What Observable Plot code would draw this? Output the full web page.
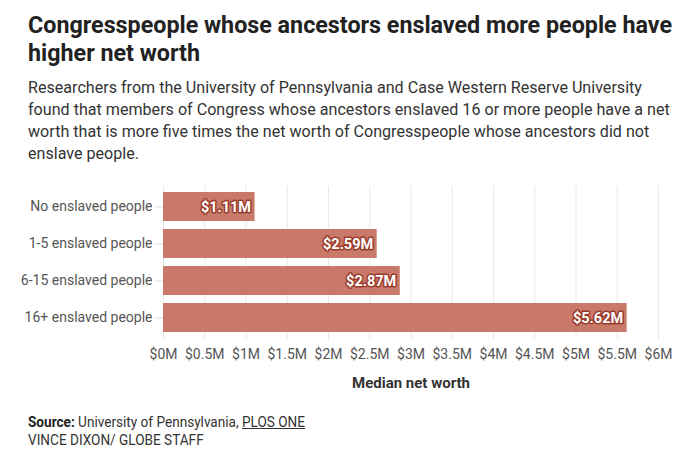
<!DOCTYPE html>
<html>
<head>
<meta charset="utf-8">
<script src="https://cdn.jsdelivr.net/npm/d3@7"></script>
<script src="https://cdn.jsdelivr.net/npm/@observablehq/plot@0.6"></script>
<style>
  html, body { margin: 0; padding: 0; background: #fff; }
  body { width: 700px; height: 461px; overflow: hidden; font-family: Roboto, "Liberation Sans", sans-serif; }
  .blk { position: absolute; left: 28px; margin: 0; }
  .blk span { display: block; white-space: nowrap; transform-origin: 0 50%; width: max-content; }
  h1.blk { top: 11px; font-size: 24px; line-height: 28px; font-weight: bold; color: #222; }
  .sub { top: 77px; font-size: 16.5px; line-height: 22px; color: #333; }
  #chart { position: absolute; left: 0; top: 180px; }
  .foot { top: 413px; font-size: 14px; line-height: 18px; color: #333; }
  .foot b { color: #222; }
  #chart svg [aria-label="x-axis label"] { font-weight: bold; fill: #333; }
</style>
</head>
<body>
  <h1 class="blk" id="title" data-w="644"><span>Congresspeople whose ancestors enslaved more people have</span><span>higher net worth</span></h1>
  <p class="blk sub" id="sub" data-w="614"><span>Researchers from the University of Pennsylvania and Case Western Reserve University</span><span>found that members of Congress whose ancestors enslaved 16 or more people have a net</span><span>worth that is more five times the net worth of Congresspeople whose ancestors did not</span><span>enslave people.</span></p>
  <div id="chart"></div>
  <div class="blk foot" id="foot" data-w="277"><span><b>Source:</b> University of Pennsylvania, <u>PLOS ONE</u></span><span>VINCE DIXON/ GLOBE STAFF</span></div>
<script>
const categories = ["No enslaved people", "1-5 enslaved people", "6-15 enslaved people", "16+ enslaved people"];
const netWorth = [1.11, 2.59, 2.87, 5.62];
const valueLabels = ["$1.11M", "$2.59M", "$2.87M", "$5.62M"];
const xTicks = [0, 0.5, 1, 1.5, 2, 2.5, 3, 3.5, 4, 4.5, 5, 5.5, 6];

const data = categories.map((c, i) => ({category: c, value: netWorth[i], label: valueLabels[i]}));
const font = 'Roboto, "Liberation Sans", sans-serif';

const chart = Plot.plot({
  width: 700,
  height: 222,
  marginLeft: 163,
  marginRight: 42,
  marginTop: 6,
  marginBottom: 63,
  style: { fontFamily: font, fontSize: "14px", color: "#555", background: "transparent" },
  x: { domain: [0, 6] },
  y: { domain: categories, paddingInner: 0.21, paddingOuter: 0.12 },
  marks: [
    Plot.gridX(xTicks, { stroke: "#e8e8e8", strokeOpacity: 1, strokeWidth: 1 }),
    Plot.barX(data, { x: "value", y: "category", fill: "#c9796a" }),
    Plot.text(data, {
      x: "value", y: "category", text: "label",
      textAnchor: "end", dx: -4,
      fill: "white", stroke: "#9a3b2c", strokeWidth: 3,
      fontWeight: "bold", fontSize: 14.5
    }),
    Plot.axisY({ tickSize: 8, tickPadding: 3, stroke: "#ddd", fontSize: 14, color: "#555", label: null }),
    Plot.axisX(xTicks, {
      tickSize: 0, tickPadding: 10, fontSize: 14,
      tickFormat: d => "$" + d + "M",
      label: "Median net worth", labelAnchor: "center", labelArrow: "none", labelOffset: 48
    })
  ]
});
chart.querySelectorAll('[aria-label="x-axis label"] text, [aria-label="x-axis label"]').forEach(e => e.setAttribute("font-size", "15"));
document.getElementById("chart").appendChild(chart);

// condense header/footer text horizontally to match the reference's narrow typeface
for (const id of ["title", "sub", "foot"]) {
  const el = document.getElementById(id);
  const spans = el.querySelectorAll("span");
  const w = spans[0].getBoundingClientRect().width;
  const s = (+el.dataset.w) / w;
  spans.forEach(sp => sp.style.transform = `scaleX(${s})`);
}
</script>
</body>
</html>
